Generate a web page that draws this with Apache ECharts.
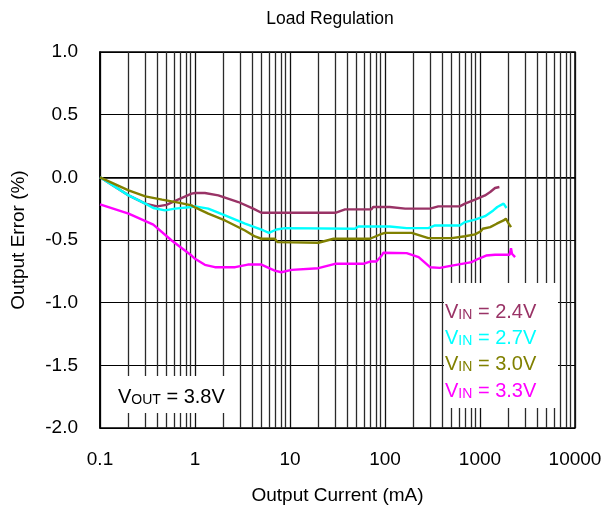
<!DOCTYPE html>
<html>
<head>
<meta charset="utf-8">
<script src="https://cdn.jsdelivr.net/npm/echarts@6/dist/echarts.min.js"></script>
<style>
  html, body { margin: 0; padding: 0; background: #fff; }
  #chart { width: 607px; height: 512px; }
</style>
</head>
<body>
<div id="chart"></div>
<script>
// Load regulation: output error (%) vs output current (mA) for four input voltages
const xTickLabels = ['0.1', '1', '10', '100', '1000', '10000'];
const yTickLabels = ['-2.0', '-1.5', '-1.0', '-0.5', '0.0', '0.5', '1.0'];

// Minor log gridline positions (mA)
const minorGrid = [
  0.2, 0.3, 0.4, 0.5, 0.6, 0.7, 0.8, 0.9,
  2, 3, 4, 5, 6, 7, 8, 9,
  20, 30, 40, 50, 60, 70, 80, 90,
  200, 300, 400, 500, 600, 700, 800, 900,
  2000, 3000, 4000, 5000, 6000, 7000, 8000, 9000
];

const seriesNames = ['VIN = 2.4V', 'VIN = 2.7V', 'VIN = 3.0V', 'VIN = 3.3V'];
const seriesColors = ['#993366', '#00FFFF', '#808000', '#FF00FF'];

const current24 = [0.1, 0.2, 0.3, 0.4, 0.5, 0.7, 0.92, 1.0, 1.27, 1.76, 2.86, 4.1, 5.0, 11, 30, 38, 72, 75, 112, 163, 298, 364, 611, 695, 886, 1130, 1280, 1440, 1600];
const error24 = [0, -0.144, -0.21, -0.232, -0.22, -0.17, -0.13, -0.125, -0.125, -0.144, -0.197, -0.25, -0.283, -0.283, -0.283, -0.256, -0.256, -0.237, -0.237, -0.25, -0.25, -0.232, -0.232, -0.21, -0.178, -0.144, -0.117, -0.085, -0.077];

const current27 = [0.1, 0.2, 0.3, 0.364, 0.483, 0.617, 0.92, 1.0, 1.38, 2.07, 3.36, 5.26, 6.0, 7.2, 8.9, 48, 52.6, 112, 169, 286, 336, 611, 695, 886, 1130, 1380, 1520, 1770, 1830, 1900];
const error27 = [0, -0.144, -0.21, -0.245, -0.264, -0.25, -0.237, -0.232, -0.25, -0.304, -0.37, -0.424, -0.443, -0.416, -0.405, -0.41, -0.392, -0.392, -0.405, -0.405, -0.384, -0.384, -0.357, -0.338, -0.31, -0.264, -0.237, -0.21, -0.224, -0.245];

const current30 = [0.1, 0.2, 0.3, 0.45, 0.67, 0.92, 1.0, 1.38, 2.07, 3.36, 4.27, 5.0, 6.9, 7.4, 19.9, 28.7, 69.6, 88.8, 100, 191, 286, 506, 695, 886, 1020, 1070, 1280, 1500, 1770, 1870, 1990, 2120];
const error30 = [0, -0.104, -0.152, -0.178, -0.202, -0.224, -0.24, -0.29, -0.344, -0.424, -0.472, -0.49, -0.49, -0.517, -0.522, -0.49, -0.49, -0.456, -0.443, -0.443, -0.485, -0.485, -0.47, -0.455, -0.43, -0.41, -0.397, -0.37, -0.344, -0.33, -0.365, -0.397];

const current33 = [0.1, 0.2, 0.364, 0.568, 0.92, 1.0, 1.27, 1.62, 2.65, 3.6, 5.0, 6.9, 8.1, 10.4, 19.9, 29.8, 59, 69.6, 81, 92.5, 96, 169, 226, 298, 377, 506, 644, 816, 960, 1160, 1440, 2050, 2120, 2170, 2340];
const error33 = [-0.216, -0.29, -0.378, -0.504, -0.624, -0.65, -0.698, -0.717, -0.717, -0.696, -0.696, -0.744, -0.757, -0.738, -0.725, -0.69, -0.69, -0.672, -0.672, -0.624, -0.602, -0.605, -0.637, -0.717, -0.722, -0.704, -0.69, -0.677, -0.65, -0.624, -0.618, -0.618, -0.565, -0.61, -0.637];

const curves = [
  [current24, error24],
  [current27, error27],
  [current30, error30],
  [current33, error33]
];

const FONT = '"Liberation Sans", Arial, sans-serif';

const chart = echarts.init(document.getElementById('chart'), null, { renderer: 'canvas' });

const lineSeries = curves.map((c, i) => ({
  name: seriesNames[i],
  type: 'line',
  data: c[0].map((x, k) => [x, c[1][k]]),
  showSymbol: false,
  symbol: 'none',
  lineStyle: { color: seriesColors[i], width: 2.4 },
  z: 10 + i,
  animation: false
}));

// Minor vertical gridlines of the log axis
const gridSeries = {
  type: 'line',
  data: [],
  silent: true,
  animation: false,
  markLine: {
    silent: true,
    symbol: 'none',
    animation: false,
    label: { show: false },
    lineStyle: { color: '#2a2a2a', width: 1.3, type: 'solid' },
    data: minorGrid.map(v => ({ xAxis: v }))
  },
  z: 1
};

const richFor = (col) => ({
  v: { fontSize: 20, fontFamily: FONT, lineHeight: 24, verticalAlign: 'bottom', fill: col },
  s: { fontSize: 14, fontFamily: FONT, lineHeight: 19, verticalAlign: 'bottom', fill: col }
});

const legendY = [298, 324, 350, 377];
const legendValues = ['2.4V', '2.7V', '3.0V', '3.3V'];

const graphics = [
  { type: 'rect', shape: { x: 102, y: 376, width: 135, height: 37 }, style: { fill: '#fff' }, z: 50, silent: true },
  { type: 'rect', shape: { x: 444, y: 283, width: 114, height: 125 }, style: { fill: '#fff' }, z: 50, silent: true },
  {
    type: 'text', x: 118, y: 383, z: 60, silent: true,
    style: { text: '{v|V}{s|OUT}{v| = 3.8V}', fill: '#000', rich: richFor('#000') }
  }
];
legendValues.forEach((val, i) => {
  const col = seriesColors[i];
  graphics.push({
    type: 'text', x: 445, y: legendY[i], z: 60, silent: true,
    style: { text: '{v|V}{s|IN}{v| = ' + val + '}', fill: col, rich: richFor(col) }
  });
});

chart.setOption({
  animation: false,
  backgroundColor: '#fff',
  title: {
    text: 'Load Regulation',
    left: 325, top: 5,
    textAlign: 'center',
    textStyle: { fontFamily: FONT, fontSize: 17.5, fontWeight: 'normal', color: '#000' }
  },
  grid: {
    left: 100, right: 32, top: 52, bottom: 84,
    show: true, borderColor: '#000', borderWidth: 1.5, backgroundColor: 'transparent'
  },
  xAxis: {
    type: 'log',
    logBase: 10,
    min: 0.1,
    max: 10000,
    name: 'Output Current (mA)',
    nameLocation: 'middle',
    nameGap: 58,
    nameTextStyle: { fontFamily: FONT, fontSize: 19, color: '#000' },
    axisLine: { show: true, lineStyle: { color: '#000', width: 1.5 } },
    axisTick: { show: false },
    minorTick: { show: false },
    splitLine: { show: true, lineStyle: { color: '#111', width: 1.3 } },
    axisLabel: {
      margin: 22,
      fontFamily: FONT, fontSize: 19, color: '#000',
      formatter: v => xTickLabels[Math.round(Math.log10(v)) + 1]
    }
  },
  yAxis: {
    type: 'value',
    min: -2,
    max: 1,
    interval: 0.5,
    name: 'Output Error (%)',
    nameLocation: 'middle',
    nameGap: 72,
    nameTextStyle: { fontFamily: FONT, fontSize: 19, color: '#000' },
    axisLine: { show: true, lineStyle: { color: '#000', width: 1.5 } },
    axisTick: { show: false },
    splitLine: { show: true, lineStyle: { color: '#000', width: 1 } },
    axisLabel: {
      margin: 22,
      fontFamily: FONT, fontSize: 19, color: '#000',
      formatter: v => yTickLabels[Math.round((v + 2) / 0.5)]
    }
  },
  graphic: graphics,
  series: [gridSeries].concat(lineSeries)
});
</script>
</body>
</html>
